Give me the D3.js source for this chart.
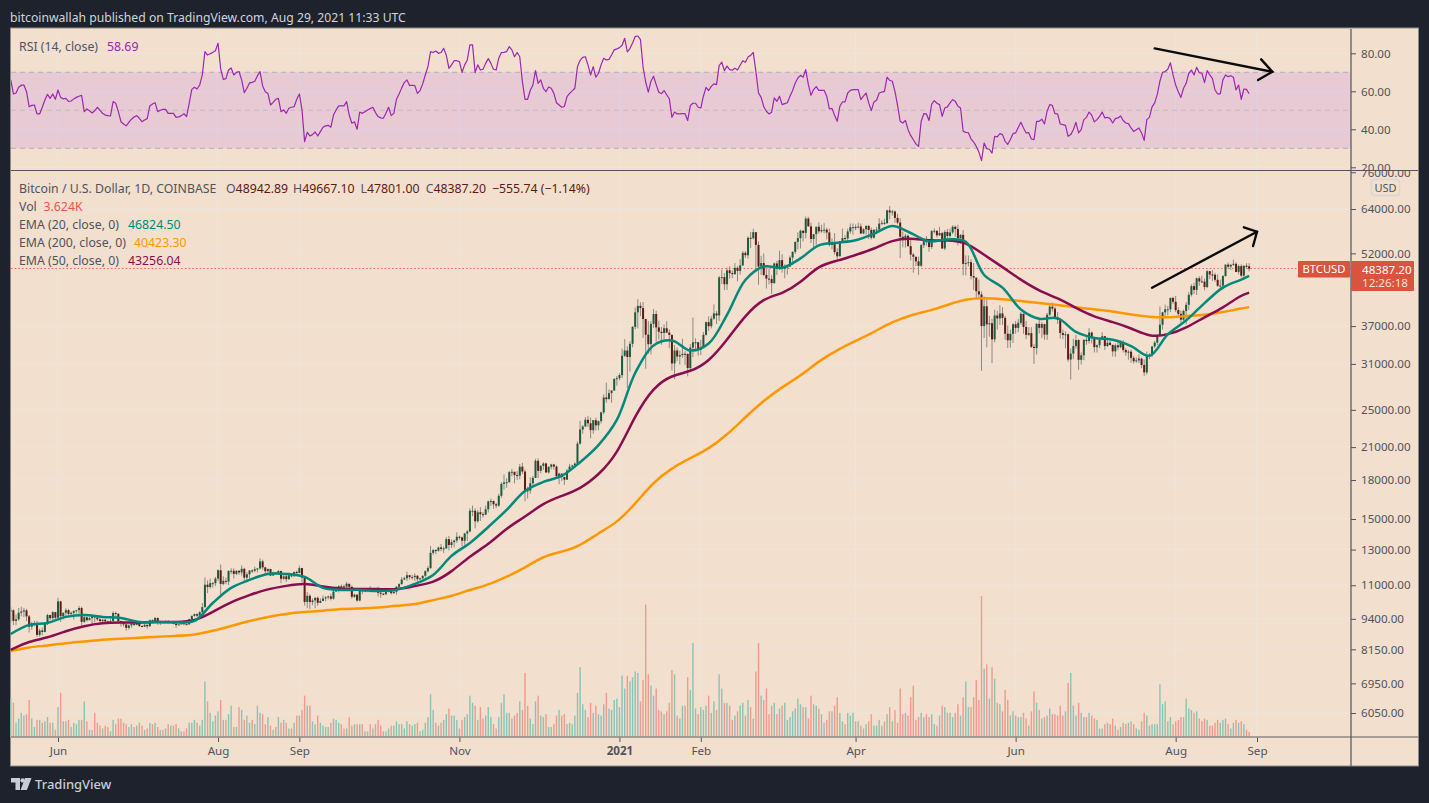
<!DOCTYPE html>
<html>
<head>
<meta charset="utf-8">
<title>BTCUSD</title>
<script src="https://cdn.jsdelivr.net/npm/d3@7"></script>
<style>
  html, body { margin: 0; padding: 0; background: #1e222d; }
  svg { display: block; }
  text { font-family: "Noto Sans", sans-serif; }
</style>
</head>
<body>
<svg id="chart" width="1429" height="803"></svg>
<script>
/* DATA. One line per month, May 14 2020 to Aug 29 2021 */
const firstDay = '2020-05-14'

const closes = [
  9780,9310,9380,9670,9730,9780,9510,9060,9170,9180,8720,8900,8840,9200,9570,9430,9700,9450,
  10200,9520,9670,9790,9620,9670,9750,9790,9890,9270,9470,9340,9430,9520,9460,9380,9300,9360,9290,9240,9300,9660,9620,9300,9240,9160,9010,9120,9190,9140,
  9240,9090,9060,9140,9080,9340,9260,9440,9240,9290,9240,9300,9240,9260,9190,9130,9160,9210,9170,9160,9390,9530,9610,9540,9700,9930,11030,10910,11110,11110,11350,
  11800,11070,11230,11190,11760,11770,11600,11770,11680,11880,11400,11580,11790,11770,11860,11900,12300,11960,11750,11870,11510,11680,11650,11760,11340,11470,11320,11530,11470,11710,11650,
  11920,11400,10170,10470,10170,10250,10370,10130,10220,10340,10390,10440,10330,10680,10790,10950,10940,10930,11080,10920,10420,10530,10240,10740,10690,10730,10770,10690,10840,10780,
  10620,10570,10550,10670,10790,10600,10670,10920,11060,11300,11370,11530,11430,11430,11500,11320,11360,11500,11750,11920,12800,12970,12930,13130,13040,13070,13650,13280,13460,13560,13800,
  13760,13550,14020,14150,15590,15590,14840,15480,15340,15300,15700,16290,16320,16070,15970,16720,17680,17800,17820,18680,18710,18420,18370,19160,18730,17150,17130,17730,18180,19700,
  18790,19230,19450,18650,19150,19360,19170,18320,18550,18250,18030,18810,19170,19270,19440,21350,22800,23130,23870,23480,22730,23820,23250,23710,24710,26490,26280,27040,27370,28880,28990,
  29410,32200,33000,32020,34050,36860,39460,40670,40250,38240,35540,34000,37390,39150,36770,36020,35820,36630,35890,35500,31060,33010,32080,32300,32500,32470,30400,33450,34300,34300,33100,
  33530,35510,37680,36980,38310,39260,38890,46450,46530,45000,48030,47400,47190,48590,47910,49150,52130,51550,55930,55840,57420,54100,48890,49700,47000,46200,46100,45240,
  49600,48440,50370,48370,48760,48880,50970,52380,54880,55850,57800,57230,61190,59000,55630,56900,58900,57650,58030,58100,57350,54090,54340,52300,51300,55050,55850,55780,57630,58780,58800,
  58730,58970,57060,58210,59120,58020,55950,58080,58130,59770,60000,59860,63580,62970,63250,61400,60060,56200,55660,56470,53800,51700,51190,50100,49070,54030,55040,54880,53570,57700,
  57800,56590,57170,53200,57480,56410,57350,58900,58280,55860,56700,49500,49700,49900,46750,46430,43550,42900,37000,40600,37300,37500,34770,38880,38350,39250,38440,35700,34620,35680,37310,
  36690,37580,39190,36850,35520,35800,33570,33380,37390,36700,37340,35550,39020,40530,40160,38340,38090,35820,35490,35600,31640,32530,33690,34660,31590,32280,34700,34490,35900,35050,
  33530,33820,34660,35290,33700,34220,33870,32870,33810,33510,34260,33090,32730,32820,31880,31390,31520,31780,30840,29790,32140,32290,33640,34240,35380,37250,39460,40020,40020,42210,41460,
  39880,39170,38130,39720,40880,42830,44610,43820,46280,45600,45550,44420,47830,47100,47050,45950,44690,44720,46760,49330,48870,49280,49520,47680,48990,46850,49070,48942.89,48387.20
]

const highs = [
  9940,9840,9590,9890,9950,9900,9850,9570,9270,9310,9310,8980,9020,9220,9620,9580,9740,9710,
  10380,10230,9690,9880,9850,9730,9780,9800,9990,9950,9550,9490,9490,9540,9480,9570,9530,9390,9400,9320,9420,9740,9720,9660,9320,9270,9190,9160,9240,9210,
  9300,9270,9120,9190,9150,9370,9380,9470,9450,9310,9290,9340,9350,9280,9270,9210,9190,9230,9240,9200,9400,9550,9640,9640,9740,10120,11410,11250,11350,11170,11440,
  11860,12120,11470,11400,11800,11910,11910,11810,11800,12070,11940,11690,11800,11840,12000,11930,12480,12400,12000,11900,11880,11720,11710,11800,11770,11530,11600,11550,11580,11720,11780,
  12060,11940,11460,10660,10560,10340,10410,10440,10350,10480,10460,10480,10570,10770,10940,11000,11040,11030,11180,11050,10990,10570,10520,10770,10780,10770,10790,10950,10860,10840,
  10920,10660,10600,10700,10800,10800,10690,10960,11100,11430,11450,11720,11550,11550,11630,11540,11400,11510,11800,12040,13220,13030,13020,13180,13350,13200,13780,13850,13630,13620,14100,
  13880,13820,14060,14260,15770,15970,15760,15640,15850,15480,15960,16350,16500,16350,16180,16890,17830,18480,18150,18800,18960,18700,18770,19400,19500,18900,17450,18220,18350,19880,
  19920,19320,19570,19540,19180,19420,19420,19280,18630,18560,18290,18950,19410,19340,19560,21560,23770,23290,24170,24300,24120,23840,24100,23780,24790,26890,28400,27500,27410,29000,29300,
  29680,33300,34800,33650,34500,37000,40370,41970,41350,41420,38300,37900,37850,40100,39750,37950,36850,37300,37850,36420,35600,33850,33480,33000,34880,32900,32580,34000,38500,34950,34350,
  34700,36000,37800,38700,38800,40950,39700,46800,48200,47400,48650,48950,48000,49700,49000,50600,52620,52530,56300,57500,58350,57500,55000,51400,52000,48400,48400,46950,
  49800,50200,52650,51800,49400,49200,51450,52450,54900,57400,58100,58000,61800,61700,60000,56950,58950,60100,59450,59900,58600,58400,55800,57200,53250,55100,58400,56600,58400,59800,59800,
  59500,60050,59800,58500,59300,59400,58700,58200,58900,61300,60700,61200,63800,64900,63800,63550,62600,61300,57600,57000,56800,55500,52100,51100,51200,54350,55500,56400,55200,58000,
  58450,57900,58900,57500,58000,58300,58400,59300,59200,59450,56900,58000,51500,51500,50600,49700,45800,46000,43500,42500,41900,38800,38300,39900,39750,40800,40400,38800,37100,36400,37500,
  37900,38250,39500,39250,37900,36800,36800,34000,37500,38400,37700,37400,39350,41000,41300,40500,39500,38200,36450,36100,35750,33300,34850,35500,34800,32700,34750,35300,36650,36050,
  35050,33950,34950,35950,35300,35100,35050,33950,34100,34600,34600,34650,33350,33100,33150,32200,31950,32400,31900,31650,32850,32600,33650,34500,35400,40550,39550,40900,40650,42300,42450,
  42600,40400,39800,39950,41400,43400,45000,45300,46450,46700,46800,46200,48100,47900,48100,47500,47150,45950,47000,49350,49800,49500,50500,49880,49350,49400,49150,49650,49667.10
]

const lows = [
  9260,9130,9120,9320,9510,9470,9300,8820,8930,9080,8640,8650,8700,8830,9130,9340,9340,9380,
  9420,9270,9370,9450,9530,9530,9370,9640,9560,9110,9220,9290,9400,9110,9240,9310,9240,9220,9210,9190,9270,9280,9540,9200,9070,9060,8890,8940,9020,9090,
  9120,9050,9040,9050,8980,9060,9210,9240,9140,9130,9200,9220,9200,9220,9160,9010,9120,9150,9120,9130,9150,9370,9500,9480,9540,9650,9910,10600,10830,10880,10960,
  11210,10530,11000,11050,11010,11590,11350,11530,11550,11510,11150,11160,11350,11660,11690,11680,11840,11820,11570,11660,11480,11510,11580,11610,11110,11280,11170,11280,11410,11460,11570,
  11630,11160,10000,9880,9840,10020,9880,9990,10120,10220,10200,10300,10250,10280,10670,10640,10760,10810,10890,10770,10320,10370,10190,10200,10550,10650,10650,10640,10650,10670,
  10440,10380,10500,10500,10640,10530,10570,10530,10830,11020,11280,11220,11300,11300,11230,11210,11260,11340,11410,11680,11880,12690,12720,12880,12900,12790,13040,12950,13100,13130,13420,
  13620,13210,13300,13530,14100,15200,14350,14740,14860,15100,15280,15460,15950,15730,15790,15870,16560,17220,17350,17760,18320,17720,18000,18060,18500,16300,16500,16880,17550,18170,
  18170,18580,18880,18620,18560,18920,18900,18200,17650,17910,17600,18020,18710,19000,19050,19300,21230,22350,23060,23070,21900,22350,22700,22720,23440,24500,25850,26540,25850,27350,27990,
  28700,29000,32000,27700,29900,33500,36450,36600,38750,35000,30300,32500,32400,36700,34400,34750,33900,34800,35800,33400,30050,28850,31400,30900,31900,30850,29250,29850,32000,32900,32200,
  32300,33400,35350,36150,36600,38100,37350,37900,45000,43800,43800,46200,46300,47000,45600,47050,49000,50900,50750,53300,55500,47600,44900,47000,46700,44100,45000,43000,
  45100,47000,48100,47500,46300,47100,48900,49300,51850,53000,53200,55000,55800,59000,54600,53200,54150,57000,57250,57100,55500,53700,53000,51700,50400,51300,55000,54700,55000,57000,56800,
  57950,58450,56900,56900,56800,55600,55500,55750,57700,57900,59300,59400,59800,61000,62050,60000,59600,50900,53500,53400,53600,50300,47500,49000,47000,48800,53300,53900,52400,53100,
  57050,56000,56400,53100,52800,55250,55900,56900,56200,54000,54400,46900,46900,48900,46000,43800,42100,42200,30000,35000,33500,35200,31100,34300,36400,37200,37200,34700,33400,33450,34200,
  35700,35950,37200,35700,34800,35300,33400,31000,32400,35750,35000,34700,34700,38750,39600,38100,37400,34900,34800,33350,31300,28800,31700,33300,30150,30900,31550,33900,34100,34100,
  32700,32700,33350,34800,33100,33550,33800,32100,32050,33050,33350,32700,32200,31600,31150,31050,31150,31100,30400,29300,29500,31700,32000,33400,33850,35200,36400,38700,38900,39500,41050,
  39500,38700,37500,37900,37300,39900,42500,43000,42800,44650,45350,43750,44200,46100,45700,45500,44450,44200,43950,46650,48300,48100,49000,47650,47120,46500,46400,48400,47801.00
]

// volume in thousands
const volumes = [
  27,24,10,13,17,15,16,26,13,7,12,12,10,11,14,10,10,5,
  21,31,11,11,12,7,10,9,12,12,25,11,5,5,17,10,8,6,8,7,4,12,9,13,13,10,9,7,9,7,
  8,10,8,5,6,10,9,10,7,5,5,6,9,8,8,9,6,4,4,6,10,10,12,10,8,12,39,25,17,11,15,
  18,26,12,12,16,22,7,7,21,19,12,15,10,12,9,22,17,16,9,14,8,5,7,14,10,12,10,6,6,10,15,
  15,19,29,22,22,11,9,15,10,8,7,7,10,13,12,10,9,6,6,14,8,9,9,9,9,4,4,9,6,9,
  12,8,4,4,6,8,8,11,9,9,6,11,9,8,9,10,4,5,10,14,30,19,10,8,10,12,16,20,15,15,12,
  6,12,14,16,29,24,22,12,21,13,15,21,14,9,6,14,24,30,17,17,13,15,17,25,19,45,22,13,9,25,
  29,15,14,16,7,7,9,15,19,15,16,9,10,9,15,31,49,23,19,14,24,17,22,16,15,23,31,20,19,26,27,
  21,43,34,43,39,42,46,45,25,40,93,44,36,29,34,19,18,16,18,24,47,44,15,13,22,22,42,33,66,20,16,
  21,19,22,29,17,25,19,44,34,24,24,22,12,15,18,22,24,15,26,21,13,46,66,29,26,34,16,22,
  24,16,20,22,24,12,14,18,20,27,23,21,21,13,29,23,22,20,16,10,12,18,18,22,28,17,11,9,17,15,17,
  11,11,8,6,9,11,16,8,8,12,8,11,16,21,11,19,10,34,16,17,15,28,36,12,14,17,14,16,14,16,
  9,8,15,22,21,17,17,14,17,23,15,28,39,21,21,28,40,26,99,48,51,27,49,41,24,23,18,33,26,15,18,
  15,14,14,17,13,8,18,32,24,19,13,14,15,20,16,16,15,22,15,18,38,45,22,15,24,17,14,14,17,15,
  13,12,6,6,9,10,9,13,8,5,7,10,9,10,11,9,6,5,11,17,15,8,9,9,9,37,23,25,11,14,9,
  11,12,14,14,27,20,19,17,18,13,11,13,12,8,8,10,12,10,12,13,9,6,10,12,10,11,9,5,3.624
]

const rsi = [
  66,58.6,59.1,62.1,63.2,63.3,59.8,51.9,52.6,52.8,48.1,48.1,51.6,55.4,58.4,56.3,58.6,55.8,
  60.7,56.8,56,56.3,54.7,54.9,56,56.8,57.4,57.9,49.3,50.7,49.8,48.6,49.8,51.6,50,48.4,47.5,47.2,47,54.6,53.7,49.3,44,42.8,41.8,43.6,45.3,46.5,
  47.2,45.8,44,44.9,45.6,52.3,53.3,54,49.3,50,50.5,50.5,48.4,48.4,48.4,46.3,46.5,47.2,48.2,46.7,53.7,61,62.1,61.2,63.3,68.6,80.9,79.1,79.8,80.5,81.4,
  85.3,71.8,66.3,66.7,71.2,72.3,68.6,70,70.4,66,59.3,61.6,64.4,64.7,65.3,68.1,70.4,62.8,59.8,58.9,52.8,54.2,55.8,56.3,49.3,50.2,48.4,51.1,51.6,51.9,55.8,
  58.6,50.2,33.5,38.4,36.5,37.2,38.6,36.5,38.8,41.1,41.8,42.1,41.1,47.5,50.2,52.3,52.3,52.3,54.6,47.5,43.2,44,40,49.1,48.4,49.3,50.2,50.9,51.6,48.8,
  46.7,46,45.8,48.4,51.6,47.2,48.4,55.8,58.6,61.8,64.6,66,63,63.2,63,58.9,60.4,63.9,68.6,73,80.9,80.4,81.2,80,80.4,82.6,79,72.1,73.9,76.1,76.1,
  75.6,70,73.9,76.5,84.4,84.4,69.8,73.9,71.2,71.6,74.7,77.2,74.7,71.6,71.2,77.4,80.4,80.5,80.9,83.5,81.8,78.2,80.4,78.2,65.1,55.8,55.8,60.4,63.3,70.9,
  64.2,66,61.6,59.8,62.3,61.6,58.9,54,52.8,51.6,52,57.2,58.9,60.2,61.6,73,76.3,77.9,78.2,73.9,68.6,73,67.4,69.5,73.9,77.4,76.5,76.8,79.1,81.8,82.3,
  83,84.2,87.9,80.7,82.5,85.4,88.8,89.1,87.2,72.8,64.9,59.6,65.3,67.9,63.5,59.5,58.8,60.4,58.2,56.1,46.3,49.1,48.1,48.1,48.2,48.2,44.6,52.5,53.7,53.7,51.6,
  51.2,57.4,62.1,60.4,62.6,63.9,63.5,73.5,75.3,70.9,73.3,71.4,71.1,72.1,71.2,73.7,76.1,75.3,78.1,78.9,80.5,70.5,59.1,56.8,51.9,49.5,48.1,49,
  56.5,54.7,57.4,53,53.5,54,57.4,60.4,64.4,67,68.4,67.4,71.4,63.5,57.9,60.9,62.5,60.5,60.5,60.5,57.4,50.7,51,47.4,44.2,52.1,54.4,54.4,59.1,60.5,60.9,
  60.9,60.9,55.6,57.4,59.1,53.9,49.8,54.4,55.3,59.1,59.6,60,67.5,65.8,65.3,60,52.6,44.2,43.3,44.7,39.8,36.8,34.5,32.3,31,44.2,48.2,48.1,44.6,53.3,
  55.1,53.7,53,46.8,51.2,51.8,53.9,55.6,54.7,52.1,51.2,39,38.4,38.2,35,33.3,31,28,23.5,32.8,29.8,29.5,27.5,36.3,36,37.7,37.2,33.7,32.1,34.6,37.7,
  38.1,41,43.7,40.7,38.1,38.2,34.9,34.6,44.2,44.2,45.3,42.8,49.5,53,52.6,48.2,48.1,42.8,42.5,42.1,36.3,37.2,39.8,43.7,38.1,39.8,45.1,46.3,49.1,47.4,
  43.9,45.1,46.8,49.1,46,46.3,45.6,43.3,45.6,46,47,44.6,43.3,43,40.7,38.9,39.8,40.7,38.1,34.2,45.1,46.3,51.8,53.9,58.4,65.4,70,70.4,71.6,75,68.6,
  63.3,59.8,56.8,61.6,64.2,69.5,71.2,68.6,72.6,69.8,69.5,64.6,70.9,68.6,66.8,60.7,58.6,58.6,66,68.6,67.7,68.2,67.4,60.7,63.3,55.8,61.2,61,58.69
]

// EMA values, read once a week plus the last bar
const ema20 = [
  8755,9137,9222,9486,9573,9486,9442,9265,9265,9250,
  9307,10124,10865,11279,11599,11599,11438,10865,10765,10765,
  10713,10765,11067,11545,12620,13410,14450,15650,17100,17840,
  18350,19570,21200,23850,29700,33800,34600,33000,34100,39000,
  45900,48900,48600,50800,54000,54650,55300,57000,59100,57200,
  55000,55500,54900,47000,44300,40000,38300,38400,36000,35000,
  34700,33700,32200,35600,38000,41200,44300,46000,46824.5
]
const ema50 = [
  8130,8472,8595,8883,9094,9222,9240,9240,9265,9265,
  9280,9709,10180,10510,10815,10970,11123,10920,10815,10815,
  10815,10765,10970,11120,11706,12620,13290,14390,15140,16170,
  16710,17260,18430,20240,24410,27830,29430,29850,31280,34670,
  38970,42200,43000,45270,49250,50180,51600,53070,55370,55880,
  55100,55370,54900,51600,48790,45910,43600,42200,40270,38610,
  37720,36670,35160,35490,36670,38610,40270,42800,43256.04
]
const ema200 = [
  8090,8240,8290,8400,8450,8530,8570,8600,8640,8680,
  8720,8880,9090,9310,9490,9630,9710,9760,9850,9870,
  9900,10000,10040,10270,10450,10770,11020,11440,11930,12620,
  12860,13220,14050,14730,16100,17840,19050,19960,20820,22230,
  24180,26100,27830,29290,31430,33080,34510,36000,37720,38970,
  39710,40840,42000,42200,42000,41600,41200,40840,40400,40000,
  39700,39000,38600,38500,38800,38970,39500,40200,40423.3
]

const priceTicks = [76000, 64000, 52000, 37000, 31000, 25000, 21000, 18000, 15000, 13000, 11000, 9400, 8150, 6950, 6050]
const rsiTicks = [80, 60, 40, 20]
const rsiBands = [70, 50, 30]
const timeTicks = ['2020-06-01', '2020-08-01', '2020-09-01', '2020-11-01', '2021-01-01', '2021-02-01', '2021-04-01', '2021-06-01', '2021-08-01', '2021-09-01'].map(d => new Date(d))
const timeLabels = ['Jun', 'Aug', 'Sep', 'Nov', '2021', 'Feb', 'Apr', 'Jun', 'Aug', 'Sep']

// the two hand drawn arrows, as [date, value]
const rsiArrow = [['2021-07-24', 82.6], ['2021-09-06T20:00Z', 70.3]]
const rsiArrowHead = [['2021-09-02T14:00Z', 76.8], ['2021-09-06T20:00Z', 70.3], ['2021-09-01T10:00Z', 65.9]]
const priceArrow = [['2021-07-23', 44280], ['2021-09-01', 57550]]
const priceArrowHead = [['2021-08-27', 58750], ['2021-09-01', 57550], ['2021-08-30T12:00Z', 53830]]

// sanity check, all the series have to line up
const n = closes.length
if ([highs, lows, volumes, rsi].some(a => a.length !== n)) throw new Error('series lengths differ')

/* COLOURS */
const frameColor = '#1e222d'
const paneColor = '#f2dfce'
const gridColor = '#ebe5de'
const axisColor = '#50535e'
const textColor = '#50535e'
const upBody = '#1d5b3f', downBody = '#5e1a13', wickColor = '#8c8a85'
const upVol = '#8ac4b3', downVol = '#f3998e'
const teal = '#00897b', orange = '#ff9800', wine = '#880e4f', purple = '#9c27b0'
const priceRed = '#d9533f'

/* LAYOUT */
const left = 11, right = 1418, axisX = 1351
const rsiTop = 29, split = 170.5, timeY = 737, bottom = 766
const legendSize = 12.3, axisSize = 11.6

/* SCALES */
const days = d3.utcDay.range(new Date(firstDay), new Date('2021-08-30'))
const x = d3.scaleUtc().domain([new Date('2020-06-01'), new Date('2021-09-01')]).range([58, 1257])
const yPrice = d3.scaleLog().domain([6050, 64000]).range([713, 209])
const yRsi = d3.scaleLinear().domain([30, 80]).range([148.3, 53.3])
const yVol = d3.scaleLinear().domain([0, 99]).range([timeY, 596])

const svg = d3.select('#chart')
const defs = svg.append('defs')
defs.append('clipPath').attr('id', 'clipRsi').append('rect').attr('x', left).attr('y', rsiTop).attr('width', right - left).attr('height', split - rsiTop)
defs.append('clipPath').attr('id', 'clipMain').append('rect').attr('x', left).attr('y', split).attr('width', right - left).attr('height', bottom - split)
defs.append('clipPath').attr('id', 'clipMainAxis').append('rect').attr('x', 0).attr('y', split).attr('width', 70).attr('height', 600)
defs.append('clipPath').attr('id', 'clipRsiAxis').append('rect').attr('x', 0).attr('y', rsiTop).attr('width', 70).attr('height', split - rsiTop)

// background and grid
svg.append('rect').attr('width', 1429).attr('height', 803).attr('fill', frameColor)
svg.append('rect').attr('x', left - .5).attr('y', rsiTop - 1).attr('width', right - left + 1).attr('height', bottom - rsiTop + 1)
  .attr('fill', paneColor).attr('stroke', '#8b8b88').attr('stroke-width', 1)

const grid = svg.append('g').attr('stroke', gridColor).attr('stroke-width', 1)
grid.selectAll('.v').data(timeTicks).join('line').attr('class', 'v')
  .attr('x1', d => x(d)).attr('x2', d => x(d)).attr('y1', rsiTop).attr('y2', timeY)
grid.selectAll('.hp').data(priceTicks.slice(1)).join('line').attr('class', 'hp')
  .attr('x1', left).attr('x2', axisX).attr('y1', d => yPrice(d)).attr('y2', d => yPrice(d))
grid.selectAll('.hr').data(rsiTicks).join('line').attr('class', 'hr')
  .attr('x1', left).attr('x2', axisX).attr('y1', d => yRsi(d)).attr('y2', d => yRsi(d))

/* RSI PANE */
svg.append('rect').attr('x', left).attr('width', axisX - left)
  .attr('y', yRsi(70)).attr('height', yRsi(30) - yRsi(70))
  .attr('fill', '#9f38ff').attr('fill-opacity', .12)

svg.append('g').selectAll('line').data(rsiBands).join('line')
  .attr('x1', left).attr('x2', axisX).attr('y1', d => yRsi(d)).attr('y2', d => yRsi(d))
  .attr('stroke', d => d === 50 ? '#c9b8c8' : '#b4aeb8').attr('stroke-dasharray', '5 4')

svg.append('path').datum(rsi)
  .attr('fill', 'none').attr('stroke', purple).attr('stroke-width', 1.2).attr('stroke-linejoin', 'round')
  .attr('clip-path', 'url(#clipRsi)')
  .attr('d', d3.line().x((d, i) => x(days[i])).y(d => yRsi(d)))

/* VOLUME */
const isUp = i => i === 0 || closes[i] >= closes[i - 1]
svg.append('g').selectAll('rect').data(volumes).join('rect')
  .attr('x', (d, i) => x(days[i]) - .7).attr('width', 1.4)
  .attr('y', d => yVol(d)).attr('height', d => timeY - yVol(d))
  .attr('fill', (d, i) => isUp(i) ? upVol : downVol)

/* PRICE LINE, behind the candles */
const lastY = Math.floor(yPrice(closes[n - 1])) + .5
svg.append('line').attr('x1', left).attr('x2', axisX).attr('y1', lastY).attr('y2', lastY)
  .attr('stroke', '#ea6a58').attr('stroke-width', 1.2).attr('stroke-dasharray', '1.5 2.2')

/* CANDLES */
const candles = svg.append('g').attr('clip-path', 'url(#clipMain)')
candles.selectAll('line').data(closes).join('line')
  .attr('x1', (d, i) => x(days[i])).attr('x2', (d, i) => x(days[i]))
  .attr('y1', (d, i) => yPrice(highs[i])).attr('y2', (d, i) => yPrice(lows[i]))
  .attr('stroke', wickColor).attr('stroke-width', 1)
candles.selectAll('rect').data(closes).join('rect')
  .attr('x', (d, i) => x(days[i]) - 1).attr('width', 2)
  .attr('y', (d, i) => yPrice(Math.max(d, i ? closes[i - 1] : d)))
  .attr('height', (d, i) => Math.max(1, Math.abs(yPrice(d) - yPrice(i ? closes[i - 1] : d))))
  .attr('fill', (d, i) => isUp(i) ? upBody : downBody)

/* EMAs */
const emaBars = d3.range(0, n - 1, 7).concat(n - 1)
const emaLine = curve => d3.line().x((d, i) => x(days[emaBars[i]])).y(d => yPrice(d)).curve(curve)
const emas = [[ema200, orange, d3.curveBasis], [ema50, wine, d3.curveBasis], [ema20, teal, d3.curveCatmullRom]]
svg.append('g').selectAll('path').data(emas).join('path')
  .attr('fill', 'none').attr('stroke', d => d[1]).attr('stroke-width', 2.5)
  .attr('d', d => emaLine(d[2])(d[0]))

/* ARROWS */
const arrows = [[rsiArrow, yRsi], [rsiArrowHead, yRsi], [priceArrow, yPrice], [priceArrowHead, yPrice]]
svg.append('g').selectAll('path').data(arrows).join('path')
  .attr('fill', 'none').attr('stroke', '#0b0b0b').attr('stroke-width', 2.4).attr('stroke-linecap', 'round')
  .attr('d', d => d3.line().x(p => x(new Date(p[0]))).y(p => d[1](p[1]))(d[0]))

/* AXES */
const priceAxis = d3.axisRight(yPrice).tickValues(priceTicks).tickFormat(d3.format('.2f')).tickSize(5).tickPadding(5)
const rsiAxis = d3.axisRight(yRsi).tickValues(rsiTicks).tickFormat(d3.format('.2f')).tickSize(5).tickPadding(5)
const timeAxis = d3.axisBottom(x).tickValues(timeTicks).tickFormat((d, i) => timeLabels[i]).tickSize(5).tickPadding(5)

const styleAxis = g => {
  g.select('.domain').remove()
  g.selectAll('line').attr('stroke', axisColor)
  g.selectAll('text').attr('fill', textColor).style('font-size', axisSize + 'px').style('font-family', '"Noto Sans", sans-serif')
}
svg.append('g').attr('transform', `translate(${axisX},0)`).attr('clip-path', 'url(#clipMainAxis)').call(priceAxis).call(styleAxis)
svg.append('g').attr('transform', `translate(${axisX},0)`).attr('clip-path', 'url(#clipRsiAxis)').call(rsiAxis).call(styleAxis)

svg.append('g').attr('transform', `translate(0,${timeY})`).call(timeAxis).call(styleAxis)
  .selectAll('text').style('font-weight', (d, i) => timeLabels[i] === '2021' ? 700 : 400)

// pane separators
svg.append('line').attr('x1', left).attr('x2', right).attr('y1', timeY).attr('y2', timeY).attr('stroke', '#8f8880').attr('stroke-width', 1.5)
svg.append('line').attr('x1', left).attr('x2', right).attr('y1', split).attr('y2', split).attr('stroke', axisColor).attr('stroke-width', 1.2)
svg.append('line').attr('x1', axisX).attr('x2', axisX).attr('y1', rsiTop).attr('y2', bottom).attr('stroke', axisColor).attr('stroke-width', 1.2)

/* LABELS */
const label = (str, px, py, fill, size = legendSize, extra = {}) => {
  const t = svg.append('text').attr('x', px).attr('y', py).attr('fill', fill).style('font-size', size + 'px').text(str)
  Object.entries(extra).forEach(([k, v]) => t.attr(k, v))
  return t
}

label('bitcoinwallah published on TradingView.com, Aug 29, 2021 11:33 UTC', 10, 22, '#d1d4dc', 12.2)

label('RSI (14, close)', 19, 51, textColor)
label('58.69', 107, 51, purple)

const ohlcColor = '#5e1a13'
label('Bitcoin / U.S. Dollar, 1D, COINBASE', 19, 193, textColor)
const ohlc = [['O', '48942.89', 226], ['H', '49667.10', 293], ['L', '47801.00', 360.5], ['C', '48387.20', 425.7]]
ohlc.forEach(d => {
  const t = label(d[0], d[2], 193, textColor)
  t.append('tspan').attr('fill', ohlcColor).text(d[1])
})
label('−555.74 (−1.14%)', 492, 193, ohlcColor)

label('Vol', 19, 211, textColor)
label('3.624K', 43.5, 211, '#ef5350')
label('EMA (20, close, 0)', 19, 229, textColor)
label('46824.50', 128, 229, teal)
label('EMA (200, close, 0)', 19, 247, textColor)
label('40423.30', 134, 247, orange)
label('EMA (50, close, 0)', 19, 265, textColor)
label('43256.04', 128, 265, wine)

// USD box and last price tags
svg.append('rect').attr('x', 1371.5).attr('y', 179.5).attr('width', 28).attr('height', 16).attr('rx', 3)
  .attr('fill', paneColor).attr('stroke', '#d9d6d6').attr('stroke-width', 1.4)
label('USD', 1385.5, 191.5, textColor, 11, { 'text-anchor': 'middle' })

svg.append('rect').attr('x', 1298).attr('y', 261).attr('width', 52).attr('height', 16.5).attr('rx', 1).attr('fill', priceRed)
label('BTCUSD', 1324, 273.3, '#fff', 11.2, { 'text-anchor': 'middle' })
svg.append('rect').attr('x', 1351).attr('y', 261).attr('width', 63).attr('height', 30).attr('rx', 1).attr('fill', priceRed)
label('48387.20', 1362, 273.5, '#fff', axisSize)
label('12:26:18', 1362, 287, '#fde0da', axisSize)

// TradingView mark in the footer
const mark = svg.append('g').attr('fill', '#c9ccd4')
mark.append('path').attr('d', 'M11 778h9v12h-4.5v-7.5H11z')
mark.append('circle').attr('cx', 22.6).attr('cy', 780.4).attr('r', 2.2)
mark.append('path').attr('d', 'M25 778h6.5l-4.6 12h-6.3z')
label('TradingView', 35, 789, '#c9ccd4', 13, { 'font-weight': 500 })
</script>
</body>
</html>
